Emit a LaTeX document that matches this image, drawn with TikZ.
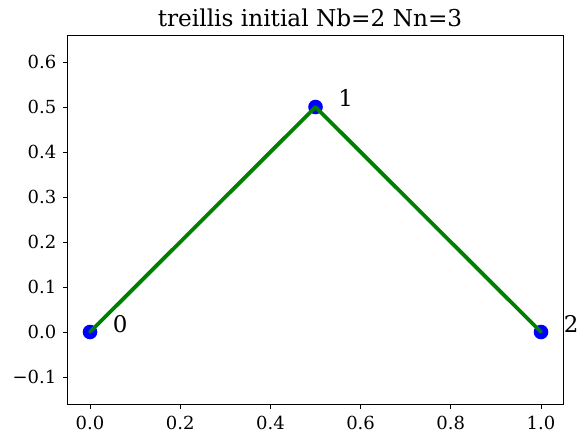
\documentclass[tikz,border=0pt]{standalone}
\usepackage{fontspec}
\setmainfont{DejaVu Serif}
\definecolor{mplgreen}{HTML}{008000}
\definecolor{mplblue}{HTML}{0000FF}
\tikzset{
  tick/.style={line width=0.9pt, black},
  ticklbl/.style={font=\fontsize{18}{20}\selectfont, inner sep=0pt},
  nodelbl/.style={font=\fontsize{23}{25}\selectfont, inner sep=0pt, anchor=base west},
  marker/.style={fill=mplblue, draw=none},
  bar/.style={line width=3.8pt, mplgreen, line join=round, line cap=round}
}
\begin{document}
\begin{tikzpicture}[x=1pt,y=1pt]
\useasboundingbox (0,0) rectangle (588,442);
\begin{scope}[shift={(90pt,110pt)}, x=451pt, y=450pt]
  % axes frame
  \draw[line width=0.9pt, black] (-0.05,-0.16) rectangle (1.05,0.66);
  % x ticks
  \foreach \v/\t in {0/0.0, 0.2/0.2, 0.4/0.4, 0.6/0.6, 0.8/0.8, 1/1.0} {
    \draw[tick] (\v,-0.16) -- ++(0,-4.9pt);
    \node[ticklbl, anchor=base] (xt\t) at ([yshift=-25pt]\v,-0.16) {\t};
  }
  % y ticks
  \foreach \v/\t in {-0.1/{−0.1}, 0/0.0, 0.1/0.1, 0.2/0.2, 0.3/0.3, 0.4/0.4, 0.5/0.5, 0.6/0.6} {
    \draw[tick] (-0.05,\v) -- ++(-4.9pt,0);
    \node[ticklbl, anchor=base east] at ([xshift=-11pt, yshift=-6.7pt]-0.05,\v) {\t};
  }
  % title
  \node[font=\fontsize{23.2}{26}\selectfont, inner sep=0pt, anchor=base] (title) at ([xshift=-5.5pt, yshift=8pt]0.5,0.66) {treillis initial Nb=2 Nn=3};
  % nodes
  \coordinate (n0) at (0,0);
  \coordinate (n1) at (0.5,0.5);
  \coordinate (n2) at (1,0);
  \foreach \n in {n0,n1,n2} \fill[marker] (\n) circle (7.3pt);
  \draw[bar] (n0) -- (n1) -- (n2);
  \node[nodelbl] (l0) at (0.05,0) {0};
  \node[nodelbl] (l1) at (0.55,0.5) {1};
  \node[nodelbl] (l2) at (1.05,0) {2};
\end{scope}
\end{tikzpicture}
\end{document}
